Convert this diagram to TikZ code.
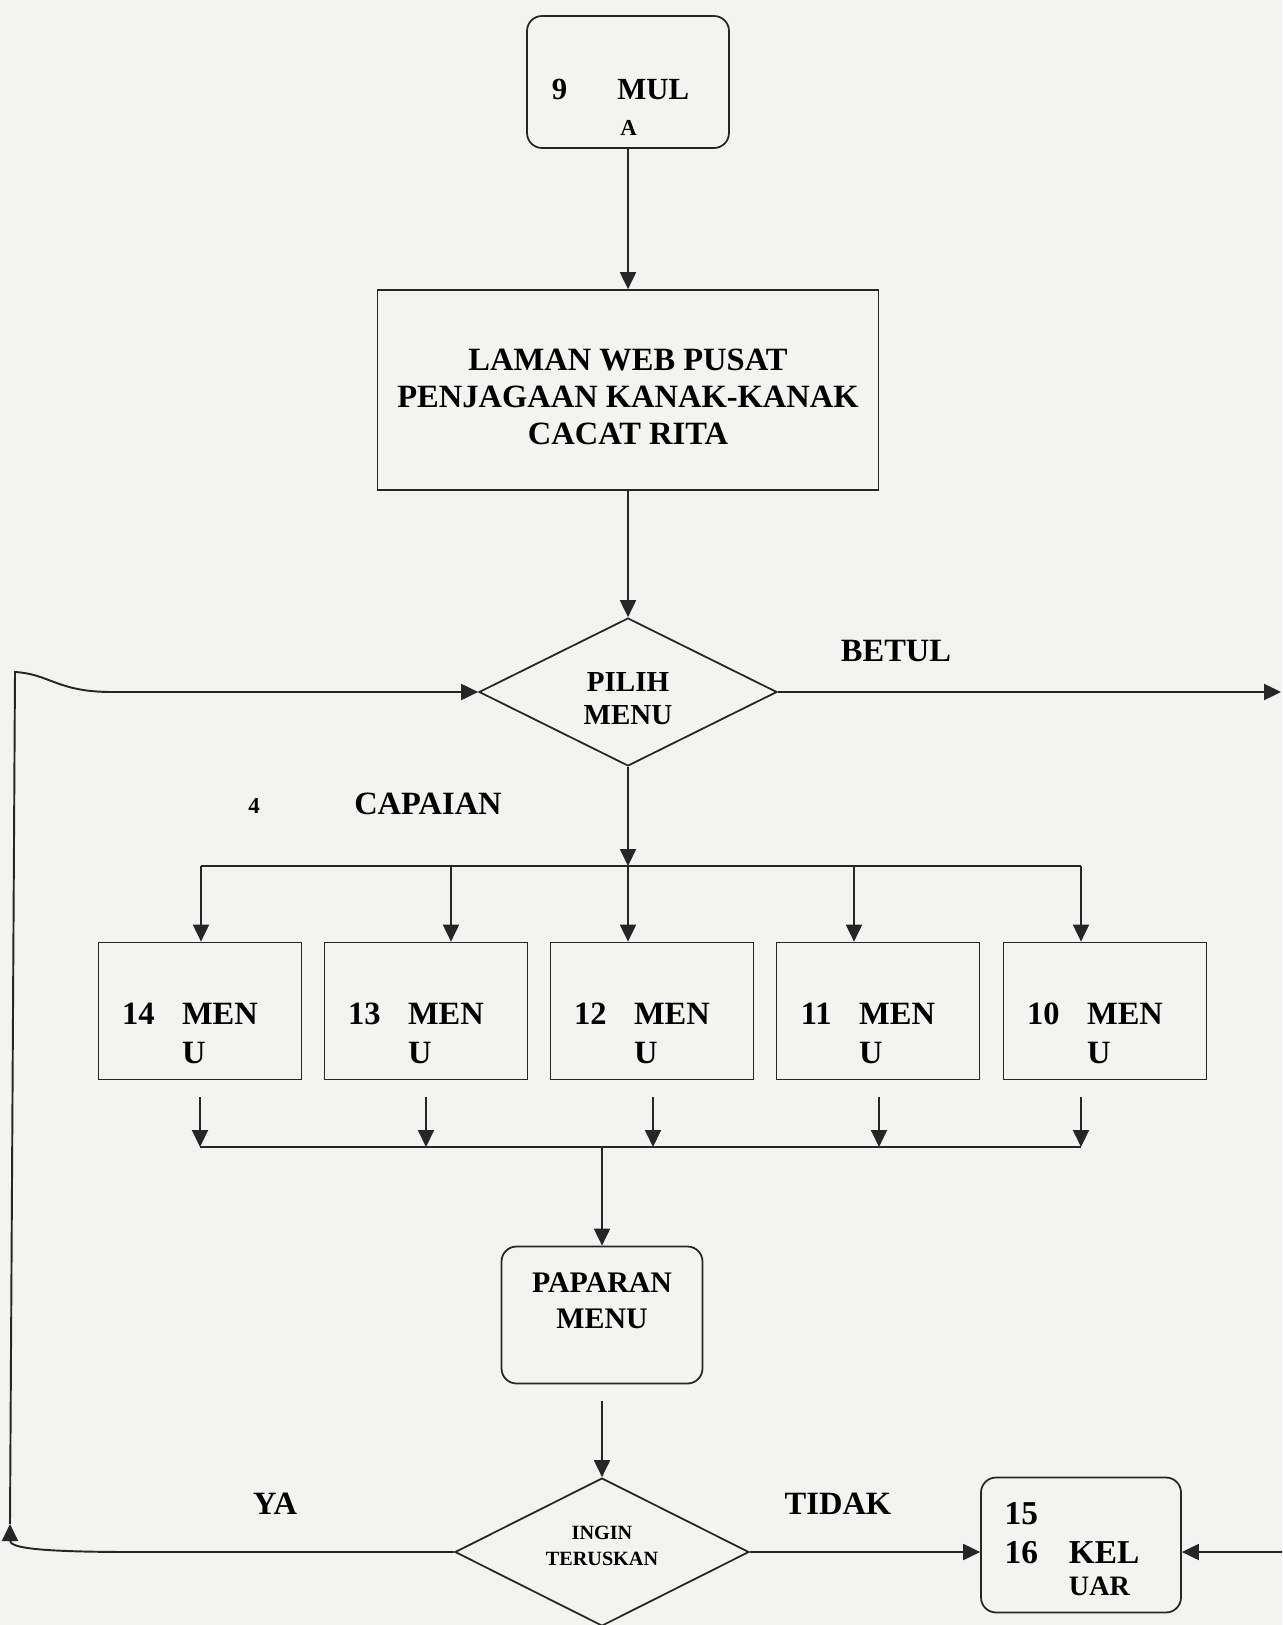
\documentclass[tikz,border=0pt]{standalone}
\usepackage{fontspec}
\setmainfont{Liberation Serif}
\usepackage{tikz}
\usetikzlibrary{arrows.meta,positioning,calc,shapes.geometric}
\definecolor{paper}{RGB}{243,243,241}
\definecolor{ink}{RGB}{38,38,38}
\newcommand{\fs}[2]{\fontsize{#1}{#2}\selectfont}
\newcommand{\lift}[2]{\raisebox{#1}[\height][\depth]{#2}}
\newcommand{\menutxt}[1]{\lift{-0.5cm}{\begin{tabular}{@{}l@{\hspace{0.55cm}}l@{\hspace{0.4cm}}}#1 & MEN\\ & U\end{tabular}}}

\begin{document}
\begin{tikzpicture}[
  x=0.02cm, y=-0.02cm,
  >={Triangle[length=0.34cm,width=0.32cm]},
  font=\bfseries\fs{18.5}{22},
  box/.style={draw=ink,rectangle,align=center,inner sep=0pt,line width=1pt,text=black},
  rbox/.style={box,rounded corners=0.3cm},
  menubox/.style={box,minimum width=4.06cm,minimum height=2.74cm},
  choice/.style={draw=ink,diamond,aspect=2,inner sep=0pt,line width=1pt,text=black},
  lbl/.style={inner sep=0pt,text=black},
  line/.style={draw=ink,line width=1.1pt},
  arr/.style={->,line}
]
  \useasboundingbox (0,0) rectangle (1282,1625);
  \fill[paper] (0,0) rectangle (1282,1625);

  \node[rbox,minimum width=4.04cm,minimum height=2.64cm] (mula) at (628,82)
    {\lift{-0.57cm}{\fs{17.5}{20.5}\begin{tabular}{@{}l@{\hspace{1cm}}l@{\hspace{0.3cm}}}9 & MUL\\ & \hspace{0.06cm}\fs{13}{18}A\end{tabular}}};
  \node[box,minimum width=10.02cm,minimum height=4cm] (laman) at (628,390)
    {\lift{-0.2cm}{\fs{18.5}{21}\begin{tabular}{@{}c@{}}LAMAN WEB PUSAT\\PENJAGAAN KANAK-KANAK\\CACAT RITA\end{tabular}}};
  \draw[arr] (mula.south) -- (laman.north);

  \node[choice,minimum width=5.96cm,minimum height=2.96cm] (pilih) at (628,692)
    {\lift{-0.18cm}{\fs{16.5}{18.7}\begin{tabular}{@{}c@{}}PILIH\\MENU\end{tabular}}};
  \draw[arr] (laman.south) -- (pilih.north);

  \coordinate (rout) at (1281,692);
  \draw[arr] (pilih.east) -- (rout);
  \node[lbl] (betul) at (896,651) {BETUL};
  \node[lbl,font=\bfseries\fs{13}{15}] (num4) at (254,806) {4};
  \node[lbl] (capaian) at (428,804) {CAPAIAN};

  % five menu pages between the two bars
  \node[menubox] (m14) at (200,1011) {\menutxt{14}};
  \node[menubox] (m13) at (426,1011) {\menutxt{13}};
  \node[menubox] (m12) at (652,1011) {\menutxt{12}};
  \node[menubox] (m11) at (878,1011) {\menutxt{11}};
  \node[menubox] (m10) at (1105,1011) {\menutxt{10}};

  \coordinate (split) at (628,866);
  \coordinate (splitL) at (201,866);
  \coordinate (splitR) at (1081,866);
  \draw[arr] (pilih.south) -- (split);
  \draw[line] (splitL) -- (splitR);
  \foreach \n/\x in {m14/201,m13/451,m12/628,m11/854,m10/1081}
    \draw[arr] (\x,866) -- (\x,866 |- \n.north);

  \coordinate (join) at (602,1147);
  \coordinate (joinL) at (200,1147);
  \coordinate (joinR) at (1081,1147);
  \foreach \n/\x in {m14/200,m13/426,m12/653,m11/879,m10/1081}
    \draw[arr,shorten <=0.34cm] (\n.south -| \x,0) -- (\x,0 |- join);
  \draw[line] (joinL) -- (joinR);

  \node[rbox,minimum width=4.02cm,minimum height=2.74cm] (paparan) at (602,1315)
    {\lift{0.23cm}{\fs{17}{20.4}\begin{tabular}{@{}c@{}}PAPARAN\\MENU\end{tabular}}};
  \draw[arr] (join) -- (paparan.north);

  \node[choice,minimum width=5.88cm,minimum height=2.96cm] (ingin) at (602,1552)
    {\lift{0.1cm}{\fs{11.5}{14.7}\begin{tabular}{@{}c@{}}INGIN\\TERUSKAN\end{tabular}}};
  \draw[arr,shorten <=0.34cm] (paparan.south) -- (ingin.north);

  \node[rbox,minimum width=4cm,minimum height=2.7cm] (keluar) at (1081,1545)
    {\lift{-0.15cm}{\fs{19}{22}\begin{tabular}{@{}l@{\hspace{0.62cm}}l@{\hspace{0.36cm}}}15 & \\ 16 & KEL\\[-0.12cm] & \fs{16}{18}UAR\end{tabular}}};
  \draw[arr] (ingin.east) -- (ingin.east -| keluar.west);
  \coordinate (rin) at (1282,1552);
  \draw[arr] (rin) -- (rin -| keluar.east);
  \node[lbl] (tidak) at (838,1504) {TIDAK};
  \node[lbl] (ya) at (275,1504) {YA};

  \coordinate (yaend) at (10,1524);
  \coordinate (loop) at (15,672);
  \coordinate (loopjoin) at (112,692);
  \draw[arr] (ingin.west) -- ++(-320,0) .. controls +(-95,0) and +(0,24) .. (yaend);
  \draw[arr] (yaend) -- (loop) .. controls +(35,2) and +(-55,0) .. (loopjoin) -- (pilih.west);
\end{tikzpicture}
\end{document}
